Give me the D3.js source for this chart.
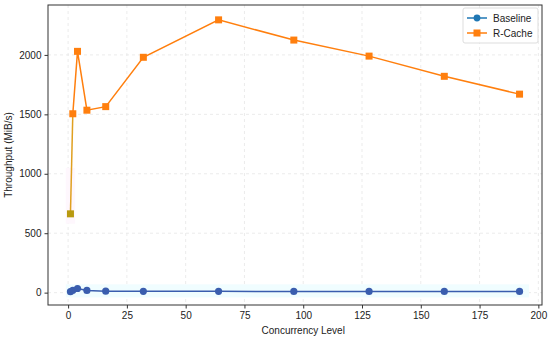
<!DOCTYPE html>
<html>
<head>
<meta charset="utf-8">
<script src="https://cdn.jsdelivr.net/npm/d3@7"></script>
<style>
  body { margin: 0; background: #fff; }
  text { font-family: "Liberation Sans", Arial, sans-serif; fill: #222; }
</style>
</head>
<body>
<svg width="550" height="340"></svg>
<script>
const levels = [1, 2, 4, 8, 16, 32, 64, 96, 128, 160, 192];
const baseline = [8, 20, 35, 19, 12, 11, 11, 10, 10, 10, 10];
const rcache = [663, 1505, 2030, 1535, 1565, 1980, 2295, 2125, 1990, 1820, 1670];
const xTicks = [0, 25, 50, 75, 100, 125, 150, 175, 200];
const yTicks = [0, 500, 1000, 1500, 2000];

const svg = d3.select('svg');
const margin = {top: 5, right: 8, bottom: 35, left: 48};
const width = +svg.attr('width');
const height = +svg.attr('height');

const x = d3.scaleLinear().domain([-8.55, 201.55]).range([margin.left, width - margin.right]);
const y = d3.scaleLinear().domain([-104, 2420]).range([height - margin.bottom, margin.top]);

// grid
const grid = svg.append('g');
grid.selectAll('.gx').data(xTicks).enter().append('line')
    .attr('x1', d => x(d)).attr('x2', d => x(d))
    .attr('y1', margin.top).attr('y2', height - margin.bottom)
    .attr('stroke', '#e6e6e6').attr('stroke-dasharray', '3,3').attr('stroke-width', 0.8);
grid.selectAll('.gy').data(yTicks).enter().append('line')
    .attr('y1', d => y(d)).attr('y2', d => y(d))
    .attr('x1', margin.left).attr('x2', width - margin.right)
    .attr('stroke', '#e6e6e6').attr('stroke-dasharray', '3,3').attr('stroke-width', 0.8);

// faint highlight bands
svg.append('rect')
    .attr('x', x(-1)).attr('width', x(196) - x(-1))
    .attr('y', y(70)).attr('height', y(-40) - y(70))
    .attr('fill', '#f0fdff');
svg.append('rect')
    .attr('x', x(-1)).attr('width', x(3) - x(-1))
    .attr('y', y(1050)).attr('height', y(580) - y(1050))
    .attr('fill', '#fef7fd');

// axes
const xAxis = svg.append('g')
    .attr('transform', `translate(0,${height - margin.bottom})`)
    .call(d3.axisBottom(x).tickValues(xTicks).tickFormat(d3.format('d')).tickSize(3.5).tickPadding(3));
const yAxis = svg.append('g')
    .attr('transform', `translate(${margin.left},0)`)
    .call(d3.axisLeft(y).tickValues(yTicks).tickFormat(d3.format('d')).tickSize(3.5).tickPadding(3));
[xAxis, yAxis].forEach(a => {
  a.select('.domain').remove();
  a.selectAll('line').attr('stroke', '#333');
  a.selectAll('text').style('font-size', '10px').attr('fill', '#222')
    .style('font-family', '"Liberation Sans", Arial, sans-serif');
});

svg.append('rect')
    .attr('x', margin.left).attr('y', margin.top)
    .attr('width', width - margin.left - margin.right)
    .attr('height', height - margin.top - margin.bottom)
    .attr('fill', 'none').attr('stroke', '#333').attr('stroke-width', 1);

svg.append('text')
    .attr('x', x(100)).attr('y', height - 6)
    .attr('text-anchor', 'middle').style('font-size', '10px')
    .text('Concurrency Level');
svg.append('text')
    .attr('transform', `translate(12,${(margin.top + height - margin.bottom) / 2}) rotate(-90)`)
    .attr('text-anchor', 'middle').style('font-size', '10px')
    .text('Throughput (MiB/s)');

const line = d3.line().x(d => x(d[0])).y(d => y(d[1]));
const bData = levels.map((l, i) => [l, baseline[i]]);
const rData = levels.map((l, i) => [l, rcache[i]]);

// R-Cache
svg.append('path').datum(rData.slice(1)).attr('d', line)
    .attr('fill', 'none').attr('stroke', '#ff7f0e').attr('stroke-width', 1.5);
svg.append('path').datum(rData.slice(0, 2)).attr('d', line)
    .attr('fill', 'none').attr('stroke', '#e0a020').attr('stroke-width', 1.5);
svg.selectAll('.sq').data(rData).enter().append('rect')
    .attr('x', d => x(d[0]) - 3.5).attr('y', d => y(d[1]) - 3.5)
    .attr('width', 7).attr('height', 7)
    .attr('fill', (d, i) => i === 0 ? '#b89a10' : '#ff7f0e');

// Baseline
svg.append('path').datum(bData).attr('d', line)
    .attr('fill', 'none').attr('stroke', '#3a5dae').attr('stroke-width', 1.5);
svg.selectAll('.dot').data(bData).enter().append('circle')
    .attr('cx', d => x(d[0])).attr('cy', d => y(d[1])).attr('r', 3.6)
    .attr('fill', '#3a5dae');

// legend
const lg = svg.append('g').attr('transform', 'translate(463,8)');
lg.append('rect').attr('width', 75).attr('height', 35).attr('rx', 2)
    .attr('fill', '#fff').attr('fill-opacity', 0.85).attr('stroke', '#ddd');
const items = [
  {name: 'Baseline', color: '#1f77b4', shape: 'circle'},
  {name: 'R-Cache', color: '#ff7f0e', shape: 'square'}
];
items.forEach((it, i) => {
  const g = lg.append('g').attr('transform', `translate(0,${10 + i * 15})`);
  g.append('line').attr('x1', 4).attr('x2', 24).attr('stroke', it.color).attr('stroke-width', 1.5);
  if (it.shape === 'circle') {
    g.append('circle').attr('cx', 14).attr('r', 3.4).attr('fill', it.color);
  } else {
    g.append('rect').attr('x', 10.5).attr('y', -3.5).attr('width', 7).attr('height', 7).attr('fill', it.color);
  }
  g.append('text').attr('x', 30).attr('dy', '0.35em').style('font-size', '10px').text(it.name);
});
</script>
</body>
</html>
